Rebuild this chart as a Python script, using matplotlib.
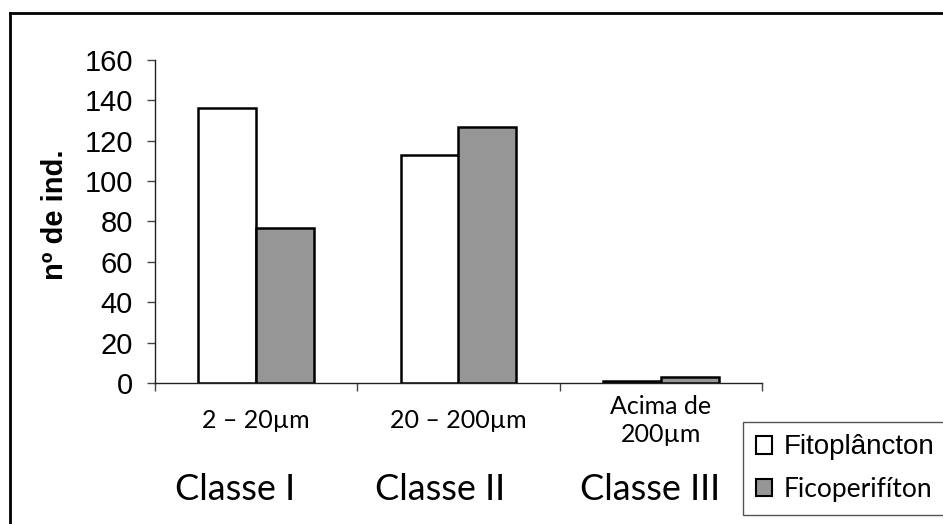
import matplotlib
matplotlib.use("Agg")
import matplotlib.pyplot as plt
from matplotlib.lines import Line2D
import numpy as np

# Data
size_labels = ["2 – 20µm", "20 – 200µm", "Acima de\n200µm"]
class_labels = ["Classe I", "Classe II", "Classe III"]
series_names = ["Fitoplâncton", "Ficoperifíton"]
fitoplancton = [136, 113, 1]
ficoperifiton = [77, 127, 3]
yticks = [0, 20, 40, 60, 80, 100, 120, 140, 160]

W, H = 943, 524
fig = plt.figure(figsize=(W / 100, H / 100), dpi=100)
fig.patch.set_facecolor("white")

ax = fig.add_axes([155 / W, 1 - 383 / H, (762 - 155) / W, (383 - 60) / H])

x = np.arange(len(size_labels))
bw = 0.286
gray = "#969696"
b1 = ax.bar(x - bw / 2, fitoplancton, bw, color="white", edgecolor="black", linewidth=1.8, label=series_names[0])
b2 = ax.bar(x + bw / 2, ficoperifiton, bw, color=gray, edgecolor="black", linewidth=1.8, label=series_names[1])

ax.set_xlim(-0.5, len(size_labels) - 0.5)
ax.set_ylim(0, 160)
ax.set_yticks(yticks)
ax.set_yticklabels([str(v) for v in yticks], family="Liberation Sans", fontsize=21)
ax.tick_params(axis="y", direction="out", length=6, width=1, color="#444444", pad=10)

# category boundary ticks on x
ax.set_xticks(np.arange(-0.5, len(size_labels) + 0.5, 1.0))
ax.set_xticklabels([])
ax.tick_params(axis="x", direction="out", length=6, width=1, color="#444444")
ax.set_xticks(x, minor=True)
ax.set_xticklabels(size_labels, minor=True, family="Lato", fontsize=18)
ax.tick_params(axis="x", which="minor", length=0, pad=27)
for lbl in ax.get_xticklabels(minor=True):
    lbl.set_linespacing(1.3)
    lbl.set_verticalalignment("center")

for s in ["top", "right"]:
    ax.spines[s].set_visible(False)
for s in ["left", "bottom"]:
    ax.spines[s].set_color("#222222")
    ax.spines[s].set_linewidth(1)

ax.set_ylabel("nº de ind.", family="Liberation Sans", fontsize=21, fontweight="bold")
ax.yaxis.set_label_coords((55 - 155) / (762 - 155), 0.52)
ax.yaxis.label.set_va("center")

# class labels
class_x = [235, 440, 650]
for cx, txt in zip(class_x, class_labels):
    fig.text(cx / W, 1 - 490 / H, txt, ha="center", va="center", family="Lato", fontsize=26)

# outer frame (left + top visible)
fig.add_artist(Line2D([10 / W, 10 / W], [-0.1, 1 - 13 / H], transform=fig.transFigure, color="black", lw=2))
fig.add_artist(Line2D([10 / W, 1.1], [1 - 13 / H, 1 - 13 / H], transform=fig.transFigure, color="black", lw=2))

leg = ax.legend(handles=[b1, b2], labels=series_names, loc="upper left",
                bbox_to_anchor=(743 / W, 1 - 422 / H), bbox_transform=fig.transFigure,
                frameon=True, fancybox=False, edgecolor="#555555", framealpha=1,
                fontsize=20, handlelength=0.6, handleheight=0.6, handletextpad=0.4,
                labelspacing=0.6, borderpad=0.45, borderaxespad=0)
leg.get_frame().set_linewidth(1)
texts = leg.get_texts()
texts[0].set_family("Liberation Sans")
texts[1].set_family("Lato")
texts[1].set_fontsize(19)
for p in leg.legend_handles:
    p.set_linewidth(1.5)

fig.savefig("out.png", dpi=100)
